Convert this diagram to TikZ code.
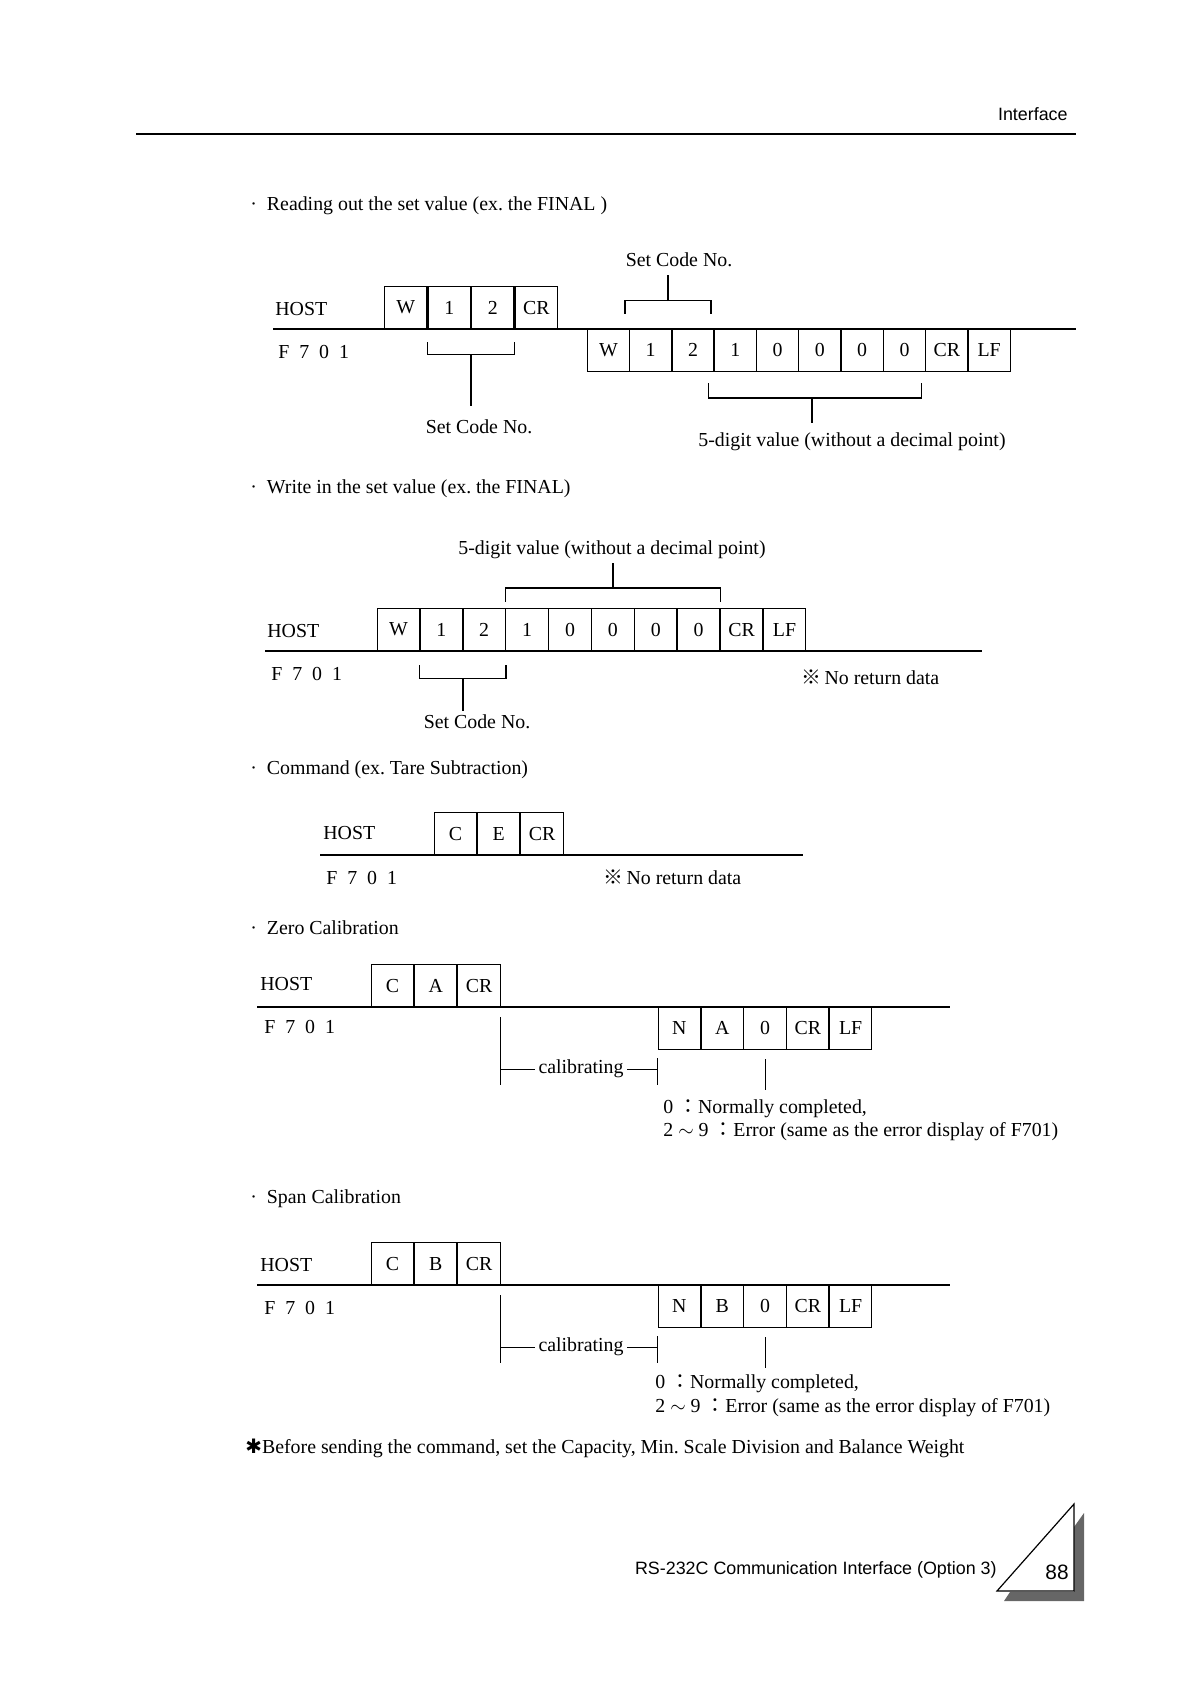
\documentclass[tikz,border=0pt]{standalone}
\usepackage{fontspec}
\setmainfont{Liberation Serif}
\setsansfont{Liberation Sans}
\newfontfamily\cjk{Noto Sans CJK JP}
\newfontfamily\symfont{DejaVu Sans}
\newcommand{\fseven}{F\enspace7\enspace0\enspace1}
\newcommand{\noreturn}{{\cjk ※}\,No return data}
\begin{document}
\begin{tikzpicture}[x=0.017707cm,y=-0.017707cm,
    cell/.style={draw,line width=0.6pt,minimum width=21.4pt,minimum height=21.4pt,inner sep=0pt},
    note/.style={inner sep=0pt,outer sep=2pt,text height=7pt,text depth=2pt},
    txt/.style={anchor=west,inner sep=0pt,text height=7pt,text depth=2pt},
    rule/.style={line width=0.7pt},
    calline/.style={line width=0.45pt}]
\useasboundingbox (0,0) rectangle (1186,1682);

\node[anchor=east,inner sep=0pt,font=\sffamily\fontsize{9}{11}\selectfont] (hdr) at (1068,114) {Interface};
\draw[line width=1.3pt] (136,134) -- (1076,134);

% reading out
\node[txt] (t1) at (250,206) {\textperiodcentered\hspace{5pt}Reading out the set value (ex.\ the FINAL )};
\node[txt] (h1) at (275,311) {HOST};
\node[txt] (f1) at (278,354) {\fseven};
\draw[rule] (273,329) -- (1076,329);
\foreach \ch [count=\i from 0] in {W,1,2,CR}
  \node[cell] (ra\i) at ({405.8+43.5*\i},307.6) {\ch};
\foreach \ch [count=\i from 0] in {W,1,2,1,0,0,0,0,CR,LF}
  \node[cell] (rb\i) at ({608.4+42.3*\i},350.4) {\ch};
\draw[rule] ([xshift=-2pt,yshift=7.5pt]rb1.north west) -- ++(0,-13) -| ([xshift=-2pt,yshift=7.5pt]rb2.north east);
\node[note] (sc1) at (679,262) {Set Code No.};
\coordinate (k1) at (668,301);
\draw[rule] (k1) -- (k1 |- sc1.south);
\draw[rule] ([yshift=-6.5pt]ra1.south west) -- ++(0,12) -| ([yshift=-6.5pt]ra2.south east);
\node[note] (sc2) at (479,429) {Set Code No.};
\coordinate (k2) at (471,354);
\draw[rule,shorten >=5pt] (k2) -- (k2 |- sc2.north);
\draw[rule] ([xshift=-2.5pt,yshift=-5.5pt]rb3.south west) -- ++(0,15) -| ([xshift=-2.5pt,yshift=-5.5pt]rb7.south east);
\node[note] (fd1) at (852,442) {5-digit value (without a decimal point)};
\coordinate (k3) at (812,398);
\draw[rule,shorten >=3pt] (k3) -- (k3 |- fd1.north);

% write in
\node[txt] (t2) at (250,489) {\textperiodcentered\hspace{5pt}Write in the set value (ex.\ the FINAL)};
\node[txt] (h2) at (267,633) {HOST};
\node[txt] (f2) at (271,676) {\fseven};
\draw[rule] (265,651) -- (982,651);
\foreach \ch [count=\i from 0] in {W,1,2,1,0,0,0,0,CR,LF}
  \node[cell] (sb\i) at ({398.4+42.9*\i},629.6) {\ch};
\draw[rule] ([yshift=3pt]sb3.north west) -- ++(0,-14) -| ([yshift=3pt]sb7.north east);
\node[note] (fd2) at (612,550) {5-digit value (without a decimal point)};
\coordinate (k4) at (613,588);
\draw[rule] (k4) -- (k4 |- fd2.south);
\draw[rule] ([yshift=-7pt]sb1.south west) -- ++(0,13) -| ([yshift=-7pt]sb2.south east);
\node[note] (sc3) at (477,724) {Set Code No.};
\coordinate (k5) at (463,678);
\draw[rule] (k5) -- (k5 |- sc3.north);
\node[txt] (nr2) at (801,680) {\noreturn};

% command
\node[txt] (t3) at (250,770) {\textperiodcentered\hspace{5pt}Command (ex.\ Tare Subtraction)};
\node[txt] (h3) at (323,835) {HOST};
\node[txt] (f3) at (326,880) {\fseven};
\draw[rule] (320,855) -- (803,855);
\foreach \ch [count=\i from 0] in {C,E,CR}
  \node[cell] (cb\i) at ({455.4+43.3*\i},833.6) {\ch};
\node[txt] (nr3) at (603,880) {\noreturn};

% zero calibration
\node[txt] (t4) at (250,930) {\textperiodcentered\hspace{5pt}Zero Calibration};
\node[txt] (h4) at (260,986) {HOST};
\node[txt] (f4) at (264,1029) {\fseven};
\draw[rule] (257,1007) -- (950,1007);
\foreach \ch [count=\i from 0] in {C,A,CR}
  \node[cell] (za\i) at ({392.4+43.3*\i},985.6) {\ch};
\foreach \ch [count=\i from 0] in {N,A,0,CR,LF}
  \node[cell] (zr\i) at ({679.4+42.8*\i},1028.4) {\ch};
\draw[calline] ([yshift=-5pt]za2.south east) -- ++(0,68);
\draw[calline] ([yshift=-4pt]zr0.south west) -- ++(0,27);
\node[note] (zc) at (581,1069) {calibrating};
\draw[calline] (zc.west -| za2.east) -- (zc.west);
\draw[calline] (zc.east) -- (zc.east -| zr0.west);
\draw[calline] ([yshift=-4.5pt]zr2.south) -- ++(0,31);
\node[txt] (zo) at (663,1109) {0 {\cjk ：}Normally completed,};
\node[txt] (ze) at (663,1132) {2 $\sim$ 9 {\cjk ：}Error (same as the error display of F701)};

% span calibration
\node[txt] (t5) at (250,1199) {\textperiodcentered\hspace{5pt}Span Calibration};
\node[txt] (h5) at (260,1267) {HOST};
\node[txt] (f5) at (264,1310) {\fseven};
\draw[rule] (257,1285) -- (950,1285);
\foreach \ch [count=\i from 0] in {C,B,CR}
  \node[cell] (pa\i) at ({392.4+43.3*\i},1263.6) {\ch};
\foreach \ch [count=\i from 0] in {N,B,0,CR,LF}
  \node[cell] (pr\i) at ({679.4+42.8*\i},1306.4) {\ch};
\draw[calline] ([yshift=-5pt]pa2.south east) -- ++(0,68);
\draw[calline] ([yshift=-4pt]pr0.south west) -- ++(0,27);
\node[note] (pc) at (581,1347) {calibrating};
\draw[calline] (pc.west -| pa2.east) -- (pc.west);
\draw[calline] (pc.east) -- (pc.east -| pr0.west);
\draw[calline] ([yshift=-4.5pt]pr2.south) -- ++(0,31);
\node[txt] (po) at (655,1384) {0 {\cjk ：}Normally completed,};
\node[txt] (pe) at (655,1408) {2 $\sim$ 9 {\cjk ：}Error (same as the error display of F701)};

\node[txt] (fn) at (245,1449) {{\symfont ✱}Before sending the command, set the Capacity, Min.\ Scale Division and Balance Weight};

\node[anchor=east,inner sep=0pt,font=\sffamily\fontsize{9}{11}\selectfont] (ftr) at (997,1570) {RS-232C Communication Interface (Option 3)};
\fill[black!60] (1074,1527) -- (1084,1513) -- (1084,1601) -- (1004,1601) -- (1010,1592) -- (1074,1592) -- cycle;
\draw[line width=0.6pt,fill=white] (997,1591) -- (1074,1504) -- (1074,1591) -- cycle;
\node[font=\sffamily\fontsize{10.5}{12}\selectfont] (pg) at (1057,1572) {88};
\end{tikzpicture}
\end{document}
